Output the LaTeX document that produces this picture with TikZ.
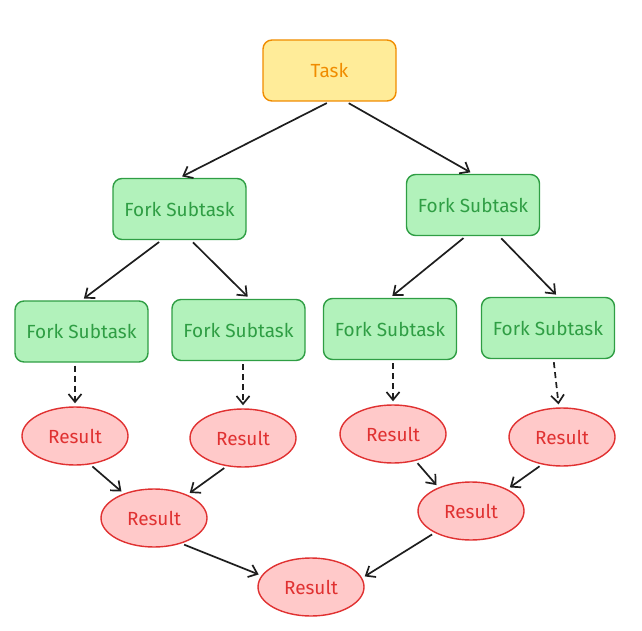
\documentclass[tikz,border=0pt]{standalone}
\usepackage{fontspec}
\setmainfont{Fira Sans}
\usetikzlibrary{arrows.meta}
\usetikzlibrary{shapes.geometric}

\begin{document}
\begin{tikzpicture}[x=1pt, y=-1pt,
        box/.style={draw, line width=1.4pt, rounded corners=9pt, minimum width=133pt, minimum height=61pt, inner sep=0pt, font=\fontsize{19}{21}\selectfont},
        taskbox/.style={box, draw=taskline, fill=taskfill, text=taskline},
        forkbox/.style={box, draw=forkline, fill=forkfill, text=forkline},
        resultnode/.style={ellipse, draw=resline, fill=resfill, text=resline, line width=1.4pt, minimum width=106pt, minimum height=58pt, inner sep=0pt, font=\fontsize{19}{21}\selectfont},
        flow/.style={-{Straight Barb[length=8pt, width=13pt]}, line width=1.7pt, draw=ink, shorten >=3pt, shorten <=3pt},
        forkflow/.style={flow, dashed, dash pattern=on 6pt off 4pt}]
        \definecolor{taskline}{HTML}{F08C00}
        \definecolor{taskfill}{HTML}{FFEC99}
        \definecolor{forkline}{HTML}{2F9E44}
        \definecolor{forkfill}{HTML}{B2F2BB}
        \definecolor{resline}{HTML}{E03131}
        \definecolor{resfill}{HTML}{FFC9C9}
        \definecolor{ink}{HTML}{1E1E1E}
        \useasboundingbox (0,0) rectangle (642,631);

        % Top task
        \node[taskbox] (task) at (329.5,70.5) {Task};

        % First level of forks
        \node[forkbox] (forkl) at (179.5,209) {Fork Subtask};
        \node[forkbox] (forkr) at (473,205) {Fork Subtask};

        % Second level of forks
        \node[forkbox] (forkla) at (81.5,331.5) {Fork Subtask};
        \node[forkbox] (forklb) at (238.5,330) {Fork Subtask};
        \node[forkbox] (forkra) at (390,329) {Fork Subtask};
        \node[forkbox] (forkrb) at (548,328) {Fork Subtask};

        % Leaf results
        \node[resultnode] (resla) at (75,436) {Result};
        \node[resultnode] (reslb) at (243,438) {Result};
        \node[resultnode] (resra) at (393,434) {Result};
        \node[resultnode] (resrb) at (562,437) {Result};

        % Joined results
        \node[resultnode] (resl) at (154,518) {Result};
        \node[resultnode] (resr) at (471,511) {Result};
        \node[resultnode] (final) at (311,587) {Result};

        % Fork arrows
        \draw[flow] (task.south) -- (forkl.north);
        \draw[flow] (task.-62) -- (forkr.north);
        \draw[flow] (forkl.-120) -- (forkla.north);
        \draw[flow] (forkl.-70) -- (forklb.70);
        \draw[flow] (forkr.-103) -- (forkra.north);
        \draw[flow] (forkr.-50) -- (forkrb.72);

        % Subtasks computed
        \draw[forkflow] (resla.north |- forkla.south) -- (resla.north);
        \draw[forkflow] (reslb.north |- forklb.south) -- (reslb.north);
        \draw[forkflow] (resra.north |- forkra.south) -- (resra.north);
        \draw[forkflow] (forkrb.-80) -- (resrb.96);

        % Join arrows
        \draw[flow] (resla.-62) -- (resl.141);
        \draw[flow] (reslb.-120) -- (resl.35);
        \draw[flow] (resra.-50) -- (resr.144);
        \draw[flow] (resrb.-126) -- (resr.31);
        \draw[flow] (resl.-43) -- (final.167);
        \draw[flow] (resr.-149) -- (final.10);
    \end{tikzpicture}
\end{document}
